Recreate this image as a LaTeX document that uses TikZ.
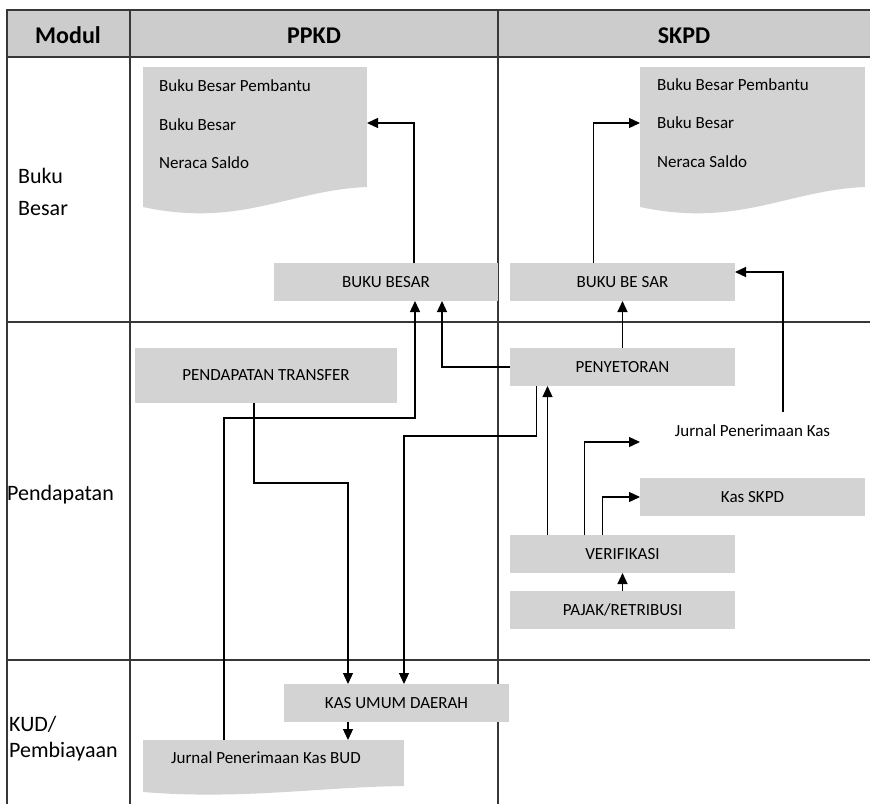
\documentclass[tikz,border=0pt]{standalone}
\usepackage{fontspec}
\setmainfont{Carlito}
\usetikzlibrary{arrows.meta}
\definecolor{boxgray}{RGB}{211,211,211}
\definecolor{headgray}{RGB}{204,204,204}
\definecolor{linegray}{RGB}{55,55,55}

\begin{document}
\begin{tikzpicture}[
    x=1pt, y=-1pt,
    tableline/.style={draw=linegray, line width=1.4pt},
    box/.style={fill=boxgray, minimum width=225, minimum height=38, inner sep=0, outer sep=0, font=\fontsize{17}{20}\selectfont},
    doc/.style={fill=boxgray, inner sep=0, outer sep=0},
    item/.style={anchor=base west, inner sep=0, font=\fontsize{17}{20}\selectfont},
    rowlabel/.style={anchor=base west, inner sep=0, font=\fontsize{22}{26}\selectfont},
    head/.style={anchor=base, inner sep=0, font=\fontsize{24}{28}\selectfont\bfseries},
    flow/.style={line width=1.3pt, -{Triangle[length=11pt, width=10pt]}}
]
    \useasboundingbox (0,0) rectangle (870,804);

    % tabel
    \fill[headgray] (7,10) rectangle (870,57);
    \draw[tableline] (7,804) -- (7,10) -- (870,10);
    \draw[tableline] (7,57) -- (870,57);
    \draw[tableline] (7,322) -- (870,322);
    \draw[tableline] (7,660) -- (870,660);
    \draw[tableline] (130,10) -- (130,804);
    \draw[tableline] (498,10) -- (498,804);
    \node[head] (hModul) at (68,43) {Modul};
    \node[head] (hPPKD) at (314,43) {PPKD};
    \node[head] (hSKPD) at (684,43) {SKPD};
    \node[rowlabel] (lbl1) at (18,183) {Buku};
    \node[rowlabel] (lbl2) at (18,215) {Besar};
    \node[rowlabel] (lbl3) at (7,500) {Pendapatan};
    \node[rowlabel] (lbl4) at (9,731) {KUD/};
    \node[rowlabel] (lbl5) at (9,757) {Pembiayaan};

    % Buku Besar
    \node[doc, minimum width=224, minimum height=120] (docPPKD) at (255,127) {};
    \fill[boxgray] (143,186) -- (367,186) -- (367,187) .. controls (290,190) and (240,228) .. (143,207) -- cycle;
    \node[item] (ppkd1) at (159,91) {Buku Besar Pembantu};
    \node[item] (ppkd2) at (159,130) {Buku Besar};
    \node[item] (ppkd3) at (159,168) {Neraca Saldo};
    \node[doc, minimum width=225, minimum height=120] (docSKPD) at (752.5,127) {};
    \fill[boxgray] (640,186) -- (865,186) -- (865,187) .. controls (788,190) and (738,228) .. (640,207) -- cycle;
    \node[item] (skpd1) at (657,90) {Buku Besar Pembantu};
    \node[item] (skpd2) at (657,128) {Buku Besar};
    \node[item] (skpd3) at (657,167) {Neraca Saldo};
    \node[box, minimum width=224] (bbPPKD) at (386,282) {BUKU BESAR};
    \node[box] (bbSKPD) at (622.5,282) {BUKU BE SAR};

    % Pendapatan
    \node[box, minimum width=262, minimum height=55] (transfer) at (266,375.5) {PENDAPATAN TRANSFER};
    \node[box] (penyetoran) at (622.5,367) {PENYETORAN};
    \node[box, fill=none] (jpk) at (752.5,431) {Jurnal Penerimaan Kas};
    \node[box] (kasSKPD) at (752.5,497) {Kas SKPD};
    \node[box] (verifikasi) at (622.5,554) {VERIFIKASI};
    \node[box] (pajak) at (622.5,610) {PAJAK/RETRIBUSI};

    % KUD/Pembiayaan
    \node[box] (kud) at (396.5,703) {KAS UMUM DAERAH};
    \node[doc, minimum width=261, minimum height=46] (docBUD) at (273.5,763) {};
    \fill[boxgray] (143,785) -- (404,785) -- (404,786) .. controls (320,787) and (240,800) .. (143,792) -- cycle;
    \node[item] (bud1) at (171,763) {Jurnal Penerimaan Kas BUD};

    % alur
    \draw[flow] ([xshift=28]bbPPKD.north) |- ([yshift=4]docPPKD.east);
    \draw[flow] ([xshift=-29]bbSKPD.north) |- ([yshift=4]docSKPD.west);
    \draw[flow] ([xshift=30.5]jpk.north) |- ([yshift=10]bbSKPD.east);
    \draw[flow] (penyetoran.north) -- (bbSKPD.south);
    \draw[flow] (penyetoran.west) -| ([xshift=56]bbPPKD.south);
    \draw[flow] ([xshift=-49.5]docBUD.north) -- ++(0,-322) -| ([xshift=29]bbPPKD.south);
    \draw[flow] ([xshift=-12]transfer.south) -- ++(0,80) -| ([xshift=-48.5]kud.north);
    \draw[flow] ([xshift=-86]penyetoran.south) -- ++(0,50) -| ([xshift=7.5]kud.north);
    \draw[flow] ([xshift=-75]verifikasi.north) -- ([xshift=-75]penyetoran.south);
    \draw[flow] ([xshift=-38]verifikasi.north) |- ([yshift=-11]jpk.west);
    \draw[flow] ([xshift=-20]verifikasi.north) |- (kasSKPD.west);
    \draw[flow] (pajak.north) -- (verifikasi.south);
    \draw[flow] ([xshift=-48.5]kud.south) -- ([xshift=-48.5]kud.south |- docBUD.north);
\end{tikzpicture}
\end{document}
